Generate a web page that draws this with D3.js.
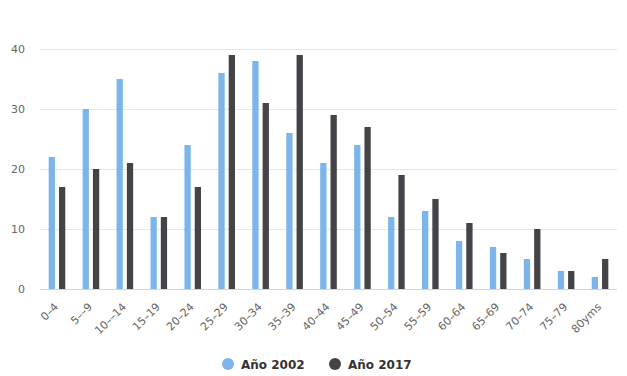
<!DOCTYPE html>
<html>
<head>
<meta charset="utf-8">
<script src="https://cdn.jsdelivr.net/npm/d3@7"></script>
<style>
    body { margin: 0; background: #fff; }
    text { font-family: "DejaVu Sans", sans-serif; }
</style>
</head>
<body>
<div id="chart"></div>
<script>
// age groups on the x axis
const categories = ["0–4", "5––9", "10––14", "15–19", "20–24", "25–29", "30–34", "35–39",
    "40–44", "45–49", "50–54", "55–59", "60–64", "65–69", "70–74", "75–79", "80yms"]
const series2002 = [22, 30, 35, 12, 24, 36, 38, 26, 21, 24, 12, 13, 8, 7, 5, 3, 2]
const series2017 = [17, 20, 21, 12, 17, 39, 31, 39, 29, 27, 19, 15, 11, 6, 10, 3, 5]
const seriesNames = ["Año 2002", "Año 2017"]
const yTicks = [0, 10, 20, 30, 40]

const width = 627, height = 376
const margin = {top: 49, right: 10, bottom: 87, left: 40}

const svg = d3.select("#chart")
    .append("svg")
    .attr("width", width)
    .attr("height", height)

const x = d3.scaleBand()
    .domain(categories)
    .range([margin.left, width - margin.right])

const y = d3.scaleLinear()
    .domain([0, 40])
    .range([height - margin.bottom, margin.top])

const inner = d3.scaleBand()
    .domain(seriesNames)
    .range([x.bandwidth() / 2 - 8.3, x.bandwidth() / 2 + 8.3])
    .paddingInner(0.39)

const colors = d3.scaleOrdinal()
    .domain(seriesNames)
    .range(["#7cb5ec", "#434348"])

// grid lines
svg.append("g")
    .selectAll("line")
    .data(yTicks.slice(1))
    .enter()
    .append("line")
    .attr("x1", margin.left)
    .attr("x2", width - margin.right)
    .attr("y1", d => y(d) + 0.5)
    .attr("y2", d => y(d) + 0.5)
    .attr("stroke", "#e6e6e6")

// y labels
svg.append("g")
    .selectAll("text")
    .data(yTicks)
    .enter()
    .append("text")
    .attr("x", 25)
    .attr("y", d => y(d) + 4)
    .attr("text-anchor", "end")
    .attr("fill", "#666")
    .style("font-size", "11px")
    .text(d => d)

// bars
const rows = categories.map((c, i) => ({cat: c, values: [series2002[i], series2017[i]]}))

const groups = svg.append("g")
    .selectAll("g")
    .data(rows)
    .enter()
    .append("g")
    .attr("transform", d => "translate(" + x(d.cat) + ",0)")

groups.selectAll("rect")
    .data(d => d.values.map((v, j) => ({name: seriesNames[j], value: v})))
    .enter()
    .append("rect")
    .attr("x", d => inner(d.name))
    .attr("width", inner.bandwidth())
    .attr("y", d => y(d.value))
    .attr("height", d => y(0) - y(d.value))
    .attr("fill", d => colors(d.name))

// baseline
svg.append("line")
    .attr("x1", margin.left)
    .attr("x2", width - margin.right)
    .attr("y1", y(0) + 0.5)
    .attr("y2", y(0) + 0.5)
    .attr("stroke", "#ccd6eb")

// x labels, rotated
svg.append("g")
    .selectAll("text")
    .data(categories)
    .enter()
    .append("text")
    .attr("transform", d => "translate(" + (x(d) + x.bandwidth() / 2 + 2) + "," + (y(0) + 18.5) + ") rotate(-45)")
    .attr("text-anchor", "end")
    .attr("fill", "#666")
    .style("font-size", "11px")
    .text(d => d)

// legend
const legendX = [228, 335]
const legend = svg.append("g")
    .selectAll("g")
    .data(seriesNames)
    .enter()
    .append("g")
    .attr("transform", (d, i) => "translate(" + legendX[i] + ",364)")

legend.append("circle")
    .attr("r", 6)
    .attr("fill", d => colors(d))

legend.append("text")
    .attr("x", 13)
    .attr("y", 4.5)
    .attr("fill", "#333")
    .style("font-size", "12px")
    .style("font-weight", "bold")
    .text(d => d)
</script>
</body>
</html>
